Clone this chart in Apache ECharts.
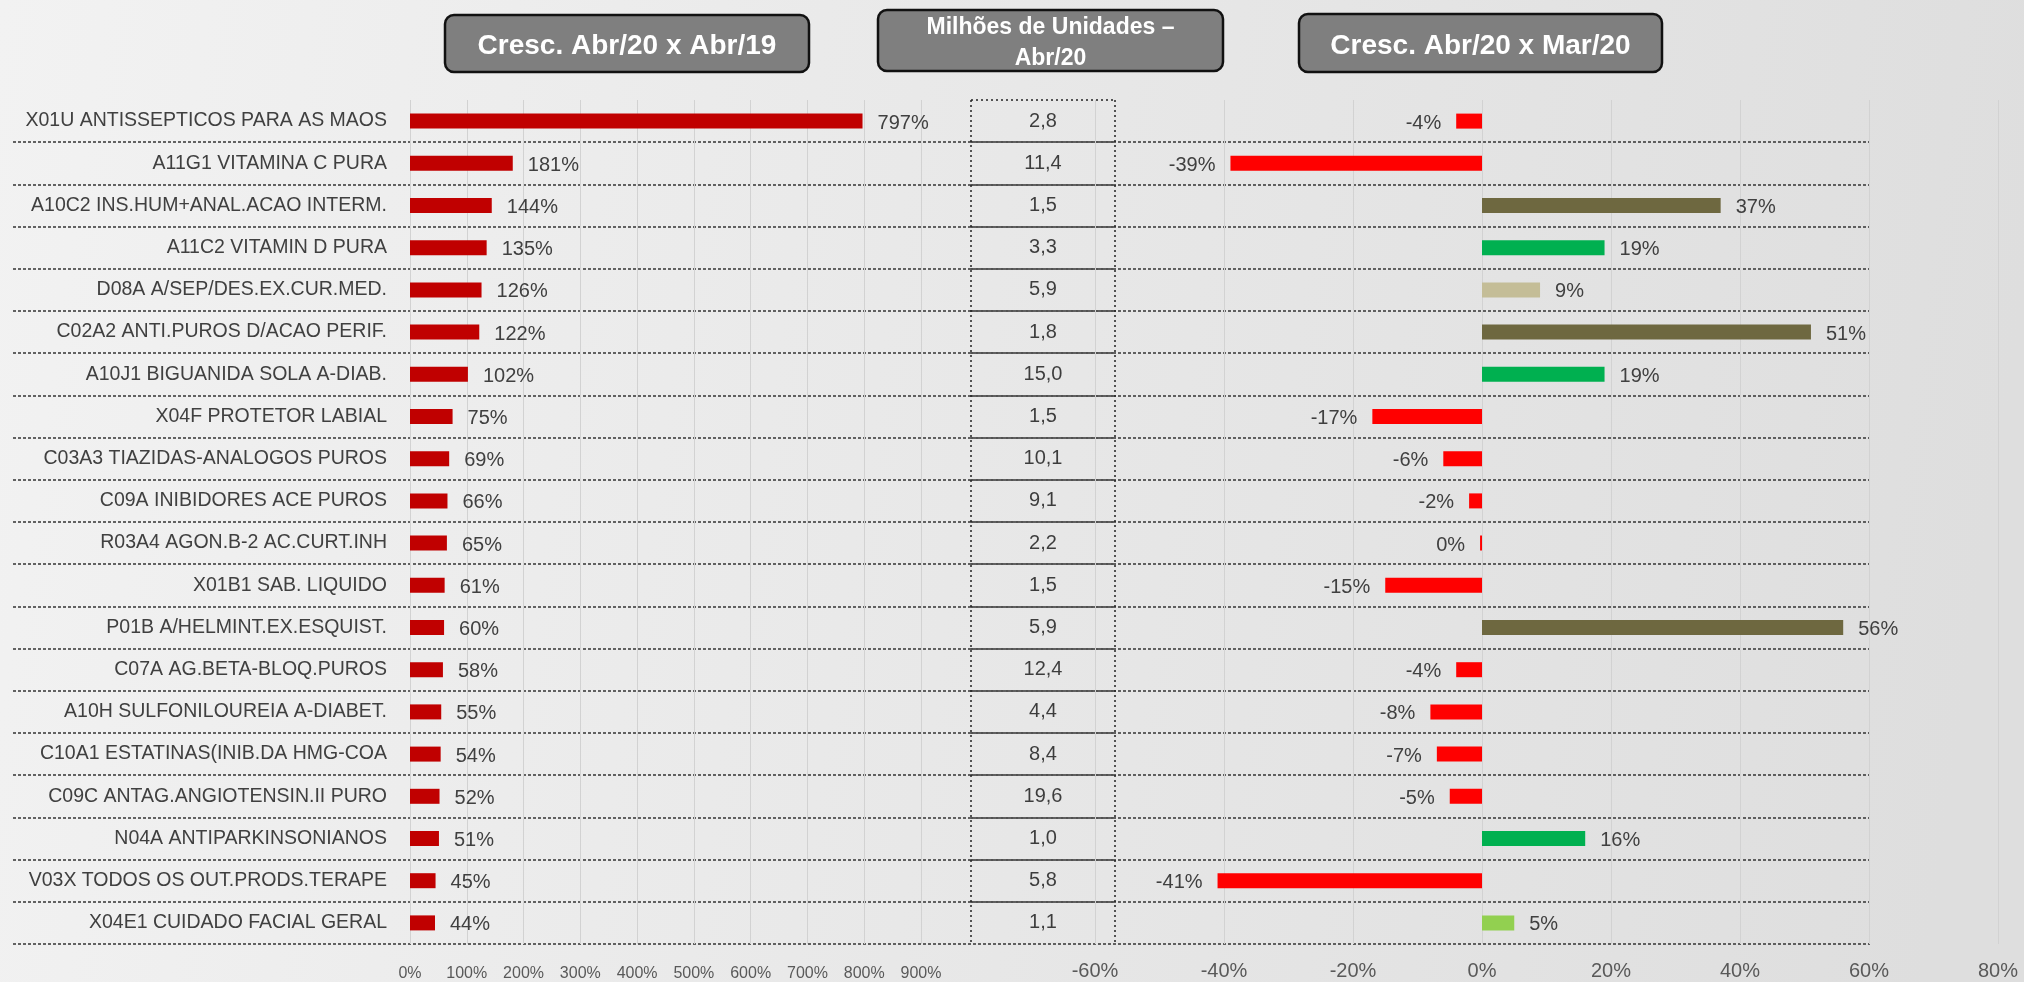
<!DOCTYPE html>
<html>
<head>
<meta charset="utf-8">
<script src="https://cdn.jsdelivr.net/npm/echarts@6/dist/echarts.min.js"></script>
<style>
html,body{margin:0;padding:0;width:100%;height:100%;overflow:hidden;}
#main{width:2024px;height:982px;}
</style>
</head>
<body>
<div id="main"></div>
<script>
// categorias (classes terapeuticas)
var categories=[
	'X01U ANTISSEPTICOS PARA AS MAOS',
	'A11G1 VITAMINA C PURA',
	'A10C2 INS.HUM+ANAL.ACAO INTERM.',
	'A11C2 VITAMIN D PURA',
	'D08A A/SEP/DES.EX.CUR.MED.',
	'C02A2 ANTI.PUROS D/ACAO PERIF.',
	'A10J1 BIGUANIDA SOLA A-DIAB.',
	'X04F PROTETOR LABIAL',
	'C03A3 TIAZIDAS-ANALOGOS PUROS',
	'C09A INIBIDORES ACE PUROS',
	'R03A4 AGON.B-2 AC.CURT.INH',
	'X01B1 SAB. LIQUIDO',
	'P01B A/HELMINT.EX.ESQUIST.',
	'C07A AG.BETA-BLOQ.PUROS',
	'A10H SULFONILOUREIA A-DIABET.',
	'C10A1 ESTATINAS(INIB.DA HMG-COA',
	'C09C ANTAG.ANGIOTENSIN.II PURO',
	'N04A ANTIPARKINSONIANOS',
	'V03X TODOS OS OUT.PRODS.TERAPE',
	'X04E1 CUIDADO FACIAL GERAL'
];
// Cresc. Abr/20 x Abr/19 (%)
var growthYoY=[797,181,144,135,126,122,102,75,69,66,65,61,60,58,55,54,52,51,45,44];
// Milhoes de unidades - Abr/20
var unitsApr=[2.8,11.4,1.5,3.3,5.9,1.8,15.0,1.5,10.1,9.1,2.2,1.5,5.9,12.4,4.4,8.4,19.6,1.0,5.8,1.1];
// Cresc. Abr/20 x Mar/20 (%)
var growthMoM=[-4,-39,37,19,9,51,19,-17,-6,-2,-0.3,-15,56,-4,-8,-7,-5,16,-41,5];
// eixos
var yoyTicks={min:0,max:900,interval:100};
var momTicks={min:-60,max:80,interval:20};

var FONT="'Liberation Sans', Arial, sans-serif";
var TOP=100,HEIGHT=844;

function momColor(v){
	if(v<0) return '#FF0000';
	if(v>=30) return '#6E6840';
	if(v>=10) return '#00B050';
	if(v>=8) return '#C4BD97';
	return '#92D050';
}

function titleBox(x,y,w,h,lines,size,lineH){
	var children=[{
		type:'rect',
		shape:{x:x,y:y,width:w,height:h,r:9},
		style:{fill:'#7f7f7f',stroke:'#111',lineWidth:2.5}
	}];
	for(var i=0;i<lines.length;i++){
		children.push({
			type:'text',
			x:x+w/2,
			y:y+h/2+3+(i-(lines.length-1)/2)*lineH,
			style:{text:lines[i],fill:'#fff',font:'bold '+size+'px '+FONT,align:'center',verticalAlign:'middle'}
		});
	}
	return {type:'group',children:children};
}

var chart=echarts.init(document.getElementById('main'));
var hiddenCat=function(idx,extra){
	var o={type:'category',gridIndex:idx,inverse:true,data:categories,
		axisLabel:{show:false},axisTick:{show:false},axisLine:{show:false},splitLine:{show:false}};
	for(var k in extra){o[k]=extra[k];}
	return o;
};
chart.setOption({
	backgroundColor:new echarts.graphic.LinearGradient(0,0,1,0.3,[
		{offset:0,color:'#f2f2f2'},
		{offset:0.45,color:'#e9e9e9'},
		{offset:1,color:'#dedede'}
	]),
	animation:false,
	textStyle:{fontFamily:FONT},
	graphic:[
		titleBox(445,15,364,57,['Cresc. Abr/20 x Abr/19'],28,0),
		titleBox(878,10,345,61,['Milhões de Unidades –','Abr/20'],23,31),
		titleBox(1299,14,363,58,['Cresc. Abr/20 x Mar/20'],28,0)
	],
	grid:[
		{left:13,top:TOP,width:1857,height:HEIGHT},
		{left:410,top:TOP,width:511,height:HEIGHT},
		{left:971,top:TOP,width:144,height:HEIGHT},
		{left:1095,top:TOP,width:903,height:HEIGHT}
	],
	xAxis:[
		{type:'value',gridIndex:0,show:false},
		{type:'value',gridIndex:1,min:yoyTicks.min,max:yoyTicks.max,interval:yoyTicks.interval,
			axisLine:{show:false},axisTick:{show:false},
			axisLabel:{formatter:'{value}%',fontSize:16,color:'#595959',margin:22},
			splitLine:{lineStyle:{color:'#d2d2d2',width:1}}},
		{type:'value',gridIndex:2,min:0,max:1,interval:1,
			axisLine:{show:false},axisTick:{show:false},axisLabel:{show:false},
			splitLine:{lineStyle:{color:'#222',type:[2,3],width:1.5}}},
		{type:'value',gridIndex:3,min:momTicks.min,max:momTicks.max,interval:momTicks.interval,
			axisLine:{show:false},axisTick:{show:false},
			axisLabel:{formatter:'{value}%',fontSize:20,color:'#595959',margin:17},
			splitLine:{lineStyle:{color:'#d2d2d2',width:1}}}
	],
	yAxis:[
		hiddenCat(0,{splitLine:{show:true,interval:0,showMinLine:false,
			lineStyle:{color:'#333',type:[3,2],width:1.5}}}),
		{type:'category',gridIndex:1,inverse:true,data:categories,
			axisTick:{show:false},axisLine:{show:false},
			axisLabel:{fontSize:19.5,color:'#404040',margin:23,interval:0}},
		hiddenCat(2,{splitLine:{show:true,interval:0,showMaxLine:false,
			lineStyle:{color:'#222',type:[2,3],width:1.5}}}),
		hiddenCat(3,{})
	],
	series:[
		{
			type:'bar',xAxisIndex:1,yAxisIndex:1,barWidth:15,
			data:growthYoY,
			itemStyle:{color:'#C00000'},
			label:{show:true,position:'right',distance:15,offset:[0,2],
				formatter:'{c}%',fontSize:20,color:'#404040'}
		},
		{
			type:'scatter',xAxisIndex:2,yAxisIndex:2,symbolSize:0,
			data:unitsApr.map(function(v,i){return [0.5,i,v];}),
			label:{show:true,position:'inside',fontSize:20,color:'#111',
				formatter:function(p){return p.value[2].toFixed(1).replace('.',',');}}
		},
		{
			type:'bar',xAxisIndex:3,yAxisIndex:3,barWidth:15,
			data:growthMoM.map(function(v){
				return {value:v,label:{position:v<0?'left':'right'}};
			}),
			itemStyle:{color:function(p){return momColor(p.value);}},
			label:{show:true,distance:15,offset:[0,2],fontSize:20,color:'#404040',
				formatter:function(p){return Math.round(p.value)+'%';}}
		}
	]
});
</script>
</body>
</html>
